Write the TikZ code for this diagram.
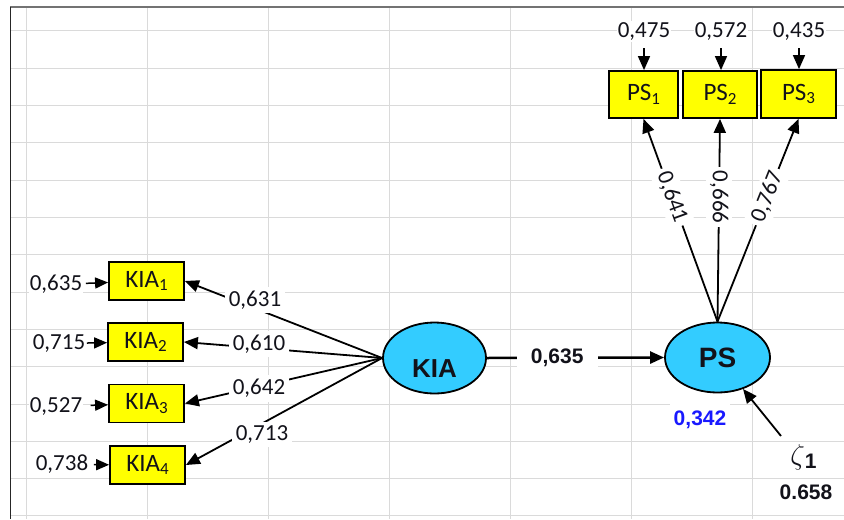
\documentclass[tikz,border=0pt]{standalone}
\usepackage{fontspec}
\setmainfont{Carlito}
\newfontfamily\arialfont{Liberation Sans}
\usetikzlibrary{arrows.meta,shapes.geometric}

\definecolor{gridgray}{RGB}{218,218,218}
\definecolor{boxyellow}{RGB}{255,255,0}
\definecolor{latentblue}{RGB}{51,204,255}
\definecolor{rsqblue}{RGB}{25,25,255}
\definecolor{inkdark}{RGB}{18,18,26}

% subscript index set a little larger than \textsubscript
\newcommand{\idx}[1]{\raisebox{-0.28ex}{\fontsize{8.5}{9}\selectfont #1}}

\tikzset{
  every node/.style={text=inkdark},
  arrowed/.style={-{Triangle[length=7pt,width=6pt]}},
  link/.style={arrowed, line width=0.9pt, draw=black},
  errarrow/.style={-{Triangle[length=6.5pt,width=5.5pt]}, line width=0.75pt, draw=black},
  sheetgrid/.style={draw=gridgray, line width=0.5pt},
  indicator/.style={rectangle, draw=black, line width=0.9pt, fill=boxyellow,
    minimum height=19pt, inner sep=0pt, font=\fontsize{12.5}{14}\selectfont},
  latent/.style={ellipse, draw=black, line width=0.9pt, fill=latentblue, inner sep=0pt},
  errlabel/.style={fill=white, inner sep=0.6pt, font=\fontsize{11.5}{13}\selectfont},
  loadlabel/.style={fill=white, inner xsep=2pt, inner ysep=2pt, font=\fontsize{11.5}{13}\selectfont},
  boldlabel/.style={fill=white, font=\arialfont\bfseries\fontsize{10.5}{12}\selectfont},
  latentname/.style={font=\arialfont\bfseries\fontsize{13}{15}\selectfont},
}

\begin{document}
\begin{tikzpicture}[x=0.5pt,y=-0.5pt]
% canvas
\fill[white] (0,0) rectangle (844,519);
\useasboundingbox (0,0) rectangle (844,519);

% spreadsheet grid
\foreach \gx in {26,147,...,752}
  \draw[sheetgrid] (\gx,8) -- (\gx,519);
\foreach \k in {0,...,13}
  \draw[sheetgrid] (11,{31+37.3*\k}) -- (844,{31+37.3*\k});
\draw[draw=black!55, line width=1pt] (10,7.5) -- (844,7.5);
\draw[draw=black!85, line width=0.8pt] (10.5,7) -- (10.5,519);

% latent variables
\node[latent, minimum width=51.5pt, minimum height=35.5pt] (kia) at (434.5,358) {};
\node[latentname, fill=none] (kianame) at (434.5,369) {KIA};
\node[latent, minimum width=52.5pt, minimum height=35pt,
      font=\arialfont\bfseries\fontsize{14}{16}\selectfont] (ps) at (717.5,357.5) {PS};

% indicators of KIA
\node[indicator, minimum width=37.5pt] (kia1) at (146.5,281) {KIA\idx{1}};
\node[indicator, minimum width=37.5pt] (kia2) at (145.5,342) {KIA\idx{2}};
\node[indicator, minimum width=37.5pt] (kia3) at (146.5,403.5) {KIA\idx{3}};
\node[indicator, minimum width=37.5pt] (kia4) at (147.5,465) {KIA\idx{4}};

% indicators of PS
\node[indicator, minimum width=34.5pt, minimum height=23.5pt] (ps1) at (643.5,94.5) {PS\idx{1}};
\node[indicator, minimum width=37pt, minimum height=23.5pt] (ps2) at (720,94.5) {PS\idx{2}};
\node[indicator, minimum width=37.5pt, minimum height=24pt] (ps3) at (798.5,94) {PS\idx{3}};

% measurement errors of KIA indicators
\node[errlabel] (e1) at (56,284.5) {0,635};
\node[errlabel] (e2) at (59,343.5) {0,715};
\node[errlabel] (e3) at (56,406.5) {0,527};
\node[errlabel] (e4) at (62,464.5) {0,738};
\draw[errarrow, shorten <=1pt] (e1) -- (kia1);
\draw[errarrow] (e2) -- (kia2);
\draw[errarrow, shorten <=3.4pt] (e3) -- (kia3);
\draw[errarrow, shorten <=2pt] (e4) -- (kia4);

% measurement errors of PS indicators
\node[errlabel] (t1) at (644,31.5) {0,475};
\node[errlabel] (t2) at (721,31.5) {0,572};
\node[errlabel] (t3) at (799,31.5) {0,435};
\draw[arrowed, line width=0.75pt, shorten <=3pt] (t1) -- (t1 |- ps1.north);
\draw[arrowed, line width=0.75pt, shorten <=3pt] (t2) -- (t2 |- ps2.north);
\draw[arrowed, line width=0.75pt, shorten <=3pt] (t3) -- (t3 |- ps3.north);

% loadings of KIA
\draw[link] (kia.west) -- (kia1.east);
\draw[link] (kia.west) -- (kia2.east);
\draw[link] (kia.west) -- (kia3.east);
\draw[link] (kia.west) -- (kia4.east);
\node[loadlabel] (l1) at (255,300) {0,631};
\node[loadlabel] (l2) at (259,344) {0,610};
\node[loadlabel] (l3) at (259,388.5) {0,642};
\node[loadlabel] (l4) at (262,434.5) {0,713};

% loadings of PS
\draw[link] (ps.north) -- node[loadlabel, sloped, pos=0.614] (l5) {0,641} (ps1.south);
\draw[link] (ps.north) -- node[loadlabel, rotate=-90, pos=0.614] (l6) {0,666} (ps2.south);
\draw[link] (ps.north) -- node[loadlabel, sloped, pos=0.614] (l7) {0,767} (ps3.south);

% structural path
\draw[link, line width=1.25pt] (kia.east) -- node[boldlabel, pos=0.397, inner xsep=7pt, inner ysep=4pt] (path) {0,635} (ps.west);

% explained variance and disturbance
\node[boldlabel, text=rsqblue, inner xsep=2pt, inner ysep=4.5pt] (rsq) at (700,420) {0,342};
\node[font=\fontsize{15}{17}\selectfont] (zeta) at (804,457) {$\zeta$\textsubscript{\arialfont\bfseries 1}};
\coordinate (zetatail) at (781,436);
\draw[link] (zetatail) -- (ps);
\node[boldlabel, inner xsep=4pt, inner ysep=3pt] (zetaval) at (806,492) {0.658};
\end{tikzpicture}
\end{document}
